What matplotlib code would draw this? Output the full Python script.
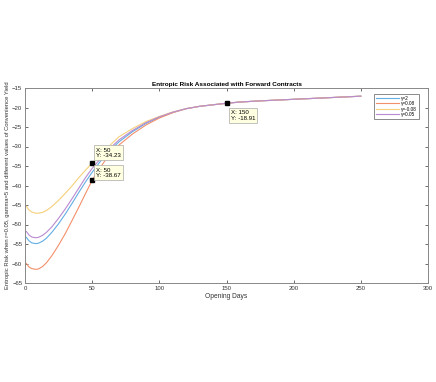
import matplotlib
matplotlib.use("Agg")
import matplotlib.pyplot as plt

plt.rcParams['font.family'] = ['Liberation Sans', 'DejaVu Sans']

days = [1, 3, 5, 8, 10, 13, 16, 20, 25, 30, 35, 40, 45, 50, 55, 60, 65, 70,
        80, 90, 100, 110, 120, 130, 140, 150, 160, 175, 200, 225, 250]

tail = [-20.3, -19.7, -19.3, -18.91, -18.6, -18.3, -17.9, -17.5, -17.1]

risk_g2 = [-53.3, -54.2, -54.7, -54.9, -54.8, -54.3, -53.5, -52.0, -49.8, -47.3,
           -44.6, -41.8, -39.1, -36.6, -34.3, -32.2, -30.4, -28.8, -26.2, -24.1,
           -22.5, -21.25] + tail
risk_g008 = [-60.0, -60.9, -61.3, -61.5, -61.4, -60.8, -59.8, -58.0, -55.3, -52.3,
             -49.0, -45.6, -42.1, -38.67, -35.9, -33.4, -31.3, -29.6, -26.8, -24.5,
             -22.7, -21.35] + tail
risk_gm008 = [-45.3, -46.3, -46.8, -47.1, -47.1, -46.9, -46.4, -45.4, -43.8, -42.0,
              -40.1, -38.0, -36.1, -34.23, -32.5, -30.9, -29.1, -27.5, -25.4, -23.6,
              -22.3, -21.15] + tail
risk_g005 = [-51.8, -52.7, -53.2, -53.4, -53.3, -52.8, -52.0, -50.6, -48.4, -46.0,
             -43.4, -40.7, -38.0, -35.6, -33.6, -31.7, -29.9, -28.3, -25.9, -23.9,
             -22.4, -21.2] + tail

labels = ['γ=2', 'γ=0.08', 'γ=-0.08', 'γ=0.05']
colors = ['#63aee3', '#f3906c', '#f6d07a', '#b98ad0']
series = [risk_g2, risk_g008, risk_gm008, risk_g005]

W, H = 436, 382
fig = plt.figure(figsize=(W/100, H/100), dpi=100)
ax = fig.add_axes([25/W, 1-283/H, (428-25)/W, (283-88)/H])

for s, c, l in zip(series, colors, labels):
    ax.plot(days, s, color=c, lw=0.8, label=l)

ax.set_xlim(0, 300)
ax.set_ylim(-65, -15)
ax.set_xticks(range(0, 301, 50))
ax.set_yticks(range(-65, -14, 5))
ax.tick_params(direction='in', length=2.5, width=0.6, labelsize=4.3, colors='#555555',
               top=True, right=True, pad=2)
for sp in ax.spines.values():
    sp.set_color('#888888')
    sp.set_linewidth(0.7)
for t in ax.get_xticklabels() + ax.get_yticklabels():
    t.set_color('#333333')

ax.set_title('Entropic Risk Associated with Forward Contracts', fontsize=4.6,
             fontweight='bold', pad=1.5)
ax.set_xlabel('Opening Days', fontsize=4.8, labelpad=1.5, color='#333333')
ax.set_ylabel('Entropic Risk when r=0.05, gamma=5 and different values of Convenience Yield',
              fontsize=4.2, labelpad=1.5, color='#333333')

leg = ax.legend(loc='upper right', bbox_to_anchor=(419/W, 1-94/H),
                bbox_transform=fig.transFigure,
                fontsize=3.4, frameon=True, fancybox=False, borderpad=0.35,
                borderaxespad=0, handlelength=5.0, labelspacing=0.1, handletextpad=0.5)
leg.get_frame().set_edgecolor('#555555')
leg.get_frame().set_linewidth(0.6)

# data tips
i50 = days.index(50)
i150 = days.index(150)
tips = [(days[i50], risk_gm008[i50], (3, 3.5)), (days[i50], risk_g008[i50], (3, 1.5)),
        (days[i150], risk_g2[i150], (3, -12.5))]
for x, y, off in tips:
    ax.plot([x], [y], marker='s', color='black', ms=3.2, zorder=5)
    ax.annotate('X: %g\nY: %.2f' % (x, y), xy=(x, y), xytext=off, textcoords='offset points',
                fontsize=4.4, va='bottom', ha='left', linespacing=1.15,
                bbox=dict(boxstyle='square,pad=0.35', fc='#ffffe1', ec='#aaaaaa', lw=0.5),
                zorder=6)

fig.savefig('out.png', dpi=100, facecolor='white')
